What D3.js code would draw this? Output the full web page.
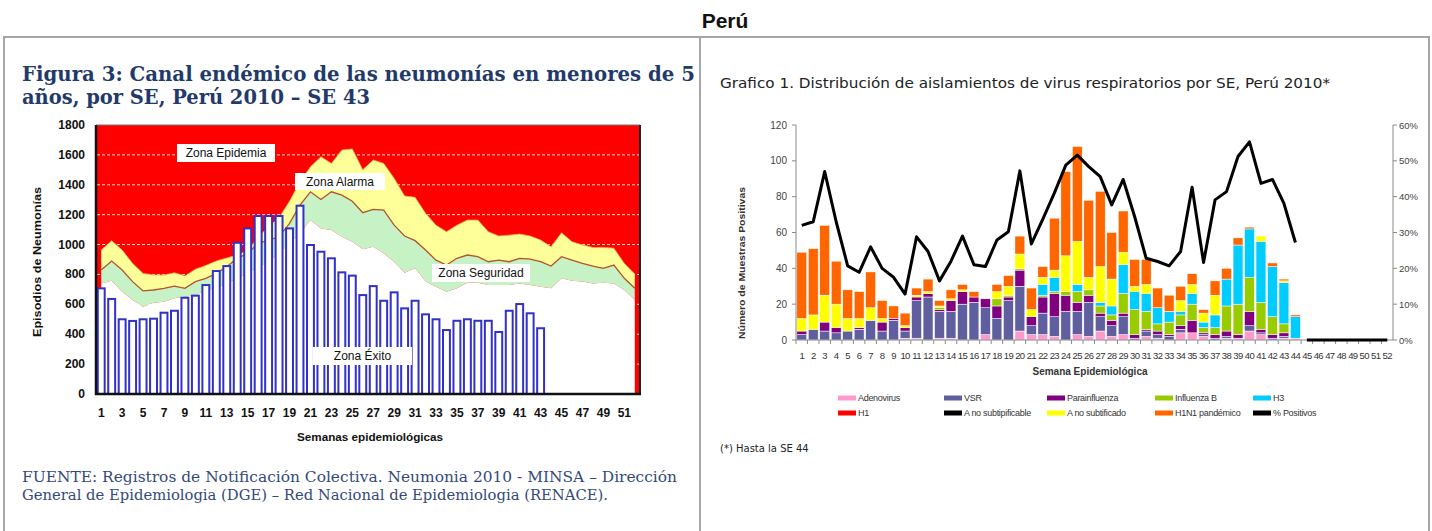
<!DOCTYPE html>
<html><head><meta charset="utf-8">
<script src="https://cdn.jsdelivr.net/npm/d3@7"></script>
<style>body{margin:0;background:#fff}svg{display:block}</style>
</head><body>
<svg id="c" width="1432" height="531"></svg>
<script>
// ---------- LEFT CHART DATA (Canal endémico) ----------
const semanasL = [1,2,3,4,5,6,7,8,9,10,11,12,13,14,15,16,17,18,19,20,21,22,23,24,25,26,27,28,29,30,31,32,33,34,35,36,37,38,39,40,41,42,43,44,45,46,47,48,49,50,51,52];
const casos2010 = [707,636,500,489,500,504,544,557,644,658,729,823,856,1012,1108,1191,1191,1191,1108,1260,997,952,908,814,792,662,722,624,680,573,624,533,500,428,490,500,490,490,415,557,602,540,440];
const limiteEpidemia = [963,1026,963,874,807,796,796,811,790,835,860,890,910,930,960,1050,1120,1180,1290,1420,1520,1588,1543,1632,1640,1500,1566,1543,1443,1325,1316,1209,1130,1086,1130,1164,1164,1086,1057,1063,1070,1057,1030,985,1079,1019,997,981,981,976,874,803];
const limiteAlarma = [830,890,830,752,690,696,707,722,707,752,774,807,852,908,941,1008,1030,1052,1142,1264,1353,1302,1353,1331,1290,1213,1235,1231,1130,1057,1026,963,896,863,908,930,919,885,896,885,908,903,885,856,919,896,874,856,841,863,774,707];
const limiteSeguridad = [740,758,685,629,584,611,618,640,651,662,696,707,740,774,807,852,885,941,1008,1075,1164,1108,1097,1052,1019,968,985,941,885,811,841,752,718,685,707,745,745,729,729,729,740,729,718,707,774,758,752,740,745,740,696,629];
const ticksL = [0,200,400,600,800,1000,1200,1400,1600,1800];
const etiquetasSemanaL = [1,3,5,7,9,11,13,15,17,19,21,23,25,27,29,31,33,35,37,39,41,43,45,47,49,51];
const zonas = ["Zona Epidemia","Zona Alarma","Zona Seguridad","Zona Éxito"];

// ---------- RIGHT CHART DATA (aislamientos de virus) ----------
const semanasR = [1,2,3,4,5,6,7,8,9,10,11,12,13,14,15,16,17,18,19,20,21,22,23,24,25,26,27,28,29,30,31,32,33,34,35,36,37,38,39,40,41,42,43,44,45,46,47,48,49,50,51,52];
const semanasConDatos = [1,2,3,4,5,6,7,8,9,10,11,12,13,14,15,16,17,18,19,20,21,22,23,24,25,26,27,28,29,30,31,32,33,34,35,36,37,38,39,40,41,42,43,44];
const adenovirus   = [0,0,0,0,0,0,0,0,0,1,1,0,1,1,0,0,3,0,0,5,3,3,2,0,3,2,5,2,3,0,2,1,0,4,4,2,0,1,1,5,3,0,1,1];
const vsr          = [3,6,5,4,5,6,11,5,11,4,21,24,15,15,20,21,15,12,22,25,5,12,11,16,13,19,8,6,10,1,3,2,2,2,0,1,1,1,0,3,1,1,1,0];
const parainfluenza= [2,0,5,3,0,1,0,5,1,2,2,2,1,6,7,3,5,7,2,9,5,9,13,9,5,4,2,3,2,2,1,2,1,2,7,1,2,3,2,8,2,2,2,0];
const influenzaB   = [0,0,0,0,0,0,0,0,0,0,0,0,1,0,0,0,0,4,1,1,0,1,1,2,6,3,4,3,11,14,10,4,7,6,9,3,4,14,17,19,15,10,5,0];
const h3           = [0,0,0,0,0,0,0,0,0,0,0,0,0,0,0,0,0,0,0,0,0,6,8,0,4,0,2,5,16,10,10,9,6,2,6,3,7,15,33,27,34,28,23,12];
const h1           = [0,0,0,0,0,0,0,0,0,0,0,0,0,0,0,0,0,0,0,0,0,0,0,0,0,0,0,0,0,0,0,0,0,0,0,0,0,0,0,0,0,0,0,0];
const aNoSubtipificable = [0,0,0,0,0,0,0,0,0,0,0,0,0,0,0,0,0,0,0,0,0,0,0,0,0,0,0,0,0,0,0,0,0,0,0,0,0,0,0,0,0,0,0,0];
const aNoSubtificado = [7,8,15,13,7,5,7,2,0,1,1,1,1,1,1,0,0,4,5,8,4,4,4,20,24,7,20,15,7,3,5,0,0,6,5,5,11,0,0,0,3,0,1,0];
const h1n1Pandemico  = [37,37,39,24,16,15,20,10,7,7,4,7,3,5,3,3,0,4,6,10,12,6,29,47,53,43,42,26,23,15,14,11,9,8,6,2,8,6,4,1,0,2,1,1];
const pctPositivos = [32,33,47,33,20.7,18.9,26,20,17.5,12.8,28.8,24.7,16.5,22,29,21,20.5,27.9,30.2,47.2,26.8,33.7,41,48.8,51.6,48.4,45.6,37.7,44.8,34.4,22.8,21.9,20.7,24.7,42.6,21.6,39.1,41.4,51.2,55.3,43.7,44.8,38.1,27.2];
const semanasSinDatos = [45,46,47,48,49,50,51,52];
const pctSinDatos = [0,0,0,0,0,0,0,0];
const ticksR = [0,20,40,60,80,100,120];
const ticksPct = [0,10,20,30,40,50,60];
const seriesR = ["Adenovirus","VSR","Parainfluenza","Influenza B","H3","H1","A no subtipificable","A no subtificado","H1N1 pandémico"];
const coloresR = ["#ff99cc","#5f5f9f","#800080","#99cc00","#00ccff","#ff0000","#000000","#ffff00","#ff6600"];

// ---------- DRAW ----------
const svg = d3.select("#c");
svg.append("rect").attr("width",1432).attr("height",531).attr("fill","#fff");
const SANS = "'Liberation Sans', Arial, sans-serif";
const SERIF = "'DejaVu Serif', 'Liberation Serif', serif";

svg.append("text").attr("x",725).attr("y",28).attr("text-anchor","middle")
  .attr("font-family",SANS).attr("font-weight","bold").attr("font-size",21).attr("fill","#111").text("Perú");

const bc = "#a6a6a6";
svg.append("line").attr("x1",3).attr("x2",1430).attr("y1",37).attr("y2",37).attr("stroke",bc).attr("stroke-width",2);
[4,700,1429].forEach(x=>svg.append("line").attr("x1",x).attr("x2",x).attr("y1",37).attr("y2",531).attr("stroke",bc).attr("stroke-width",2));

// ===== LEFT =====
const gL = svg.append("g");
gL.append("text").attr("x",22).attr("y",81).attr("font-family",SERIF).attr("font-weight","bold").attr("font-size",20)
  .attr("fill","#1f3a6b").attr("textLength",673).attr("lengthAdjust","spacingAndGlyphs")
  .text("Figura 3: Canal endémico de las neumonías en menores de 5");
gL.append("text").attr("x",22).attr("y",104).attr("font-family",SERIF).attr("font-weight","bold").attr("font-size",20)
  .attr("fill","#1f3a6b").attr("textLength",348).attr("lengthAdjust","spacingAndGlyphs")
  .text("años, por SE, Perú 2010 – SE 43");

const xL = d3.scaleBand().domain(semanasL).range([96,640]).paddingInner(0.34).paddingOuter(0.17);
const yL = d3.scaleLinear().domain([0,1800]).range([394,125]);
const cxL = w => xL(w) + xL.bandwidth()/2;

gL.append("rect").attr("x",96).attr("y",125).attr("width",544).attr("height",269).attr("fill","#ff0000");
gL.selectAll(".grid").data(ticksL.slice(1,-1)).join("line")
  .attr("x1",97).attr("x2",639).attr("y1",d=>yL(d)).attr("y2",d=>yL(d))
  .attr("stroke","#ffd6d6").attr("stroke-width",1).attr("stroke-dasharray","3,2");

const rowsL = semanasL.map((w,i)=>({w, up:limiteEpidemia[i], al:limiteAlarma[i], se:limiteSeguridad[i]}));
const areaG = (a,b)=>d3.area().x(d=>cxL(d.w)).y0(d=>yL(a(d))).y1(d=>yL(b(d)));
gL.append("path").datum(rowsL).attr("d",areaG(d=>d.al,d=>d.up)).attr("fill","#ffff99");
gL.append("path").datum(rowsL).attr("d",areaG(d=>d.se,d=>d.al)).attr("fill","#c6f2c6");
gL.append("path").datum(rowsL).attr("d",areaG(d=>0,d=>d.se)).attr("fill","#ffffff");
gL.append("path").datum(rowsL).attr("d",d3.line().x(d=>cxL(d.w)).y(d=>yL(d.up))).attr("fill","none").attr("stroke","#f0b040").attr("stroke-width",0.8);
gL.append("path").datum(rowsL).attr("d",d3.line().x(d=>cxL(d.w)).y(d=>yL(d.al))).attr("fill","none").attr("stroke","#b4552c").attr("stroke-width",1.3);

gL.selectAll(".bar").data(casos2010.map((v,i)=>({w:semanasL[i],v}))).join("rect")
  .attr("x",d=>xL(d.w)).attr("width",xL.bandwidth()).attr("y",d=>yL(d.v)).attr("height",d=>yL(0)-yL(d.v))
  .attr("fill","#fff").attr("stroke","#3131c9").attr("stroke-width",2);

// zone labels
const zonaPos = [[177,144,98,18],[295,173,90,17],[432,264,98,18],[313,347,99,18]];
zonas.forEach((z,i)=>{
  const [x,y,w,h]=zonaPos[i];
  gL.append("rect").attr("x",x).attr("y",y).attr("width",w).attr("height",h).attr("fill","#fff");
  gL.append("text").attr("x",x+w/2).attr("y",y+h/2+4).attr("text-anchor","middle")
    .attr("font-family",SANS).attr("font-size",12).attr("fill","#111").text(z);
});

// frame and axes
gL.append("line").attr("x1",96).attr("x2",640).attr("y1",125).attr("y2",125).attr("stroke","#777").attr("stroke-width",1);
gL.append("line").attr("x1",640).attr("x2",640).attr("y1",125).attr("y2",394).attr("stroke","#222").attr("stroke-width",2);
gL.append("line").attr("x1",96).attr("x2",96).attr("y1",125).attr("y2",395).attr("stroke","#111").attr("stroke-width",2.5);
gL.append("line").attr("x1",95).attr("x2",641).attr("y1",394).attr("y2",394).attr("stroke","#111").attr("stroke-width",2.5);

gL.selectAll(".yt").data(ticksL).join("text").attr("x",85).attr("y",d=>yL(d)+4).attr("text-anchor","end")
  .attr("font-family",SANS).attr("font-weight","bold").attr("font-size",12).attr("fill","#111").text(d=>d);
gL.selectAll(".xt").data(etiquetasSemanaL).join("text").attr("x",d=>cxL(d)).attr("y",417).attr("text-anchor","middle")
  .attr("font-family",SANS).attr("font-weight","bold").attr("font-size",12).attr("fill","#111").text(d=>d);
gL.append("text").attr("transform","translate(41,262) rotate(-90)").attr("text-anchor","middle")
  .attr("font-family",SANS).attr("font-weight","bold").attr("font-size",11).attr("fill","#111")
  .attr("textLength",150).attr("lengthAdjust","spacingAndGlyphs").text("Episodios de Neumonías");
gL.append("text").attr("x",370).attr("y",441).attr("text-anchor","middle")
  .attr("font-family",SANS).attr("font-weight","bold").attr("font-size",11).attr("fill","#111")
  .attr("textLength",146).attr("lengthAdjust","spacingAndGlyphs").text("Semanas epidemiológicas");

gL.append("text").attr("x",22).attr("y",482).attr("font-family",SERIF).attr("font-size",14).attr("fill","#34497a")
  .attr("textLength",655).attr("lengthAdjust","spacingAndGlyphs")
  .text("FUENTE: Registros de Notificación Colectiva. Neumonia 2010 - MINSA – Dirección");
gL.append("text").attr("x",22).attr("y",500).attr("font-family",SERIF).attr("font-size",14).attr("fill","#34497a")
  .attr("textLength",586).attr("lengthAdjust","spacingAndGlyphs")
  .text("General de Epidemiologia  (DGE) – Red Nacional de Epidemiologia (RENACE).");

// ===== RIGHT =====
const gR = svg.append("g");
gR.append("text").attr("x",720).attr("y",88).attr("font-family","'DejaVu Sans', sans-serif").attr("font-size",13.5).attr("fill","#222")
  .attr("textLength",610).attr("lengthAdjust","spacingAndGlyphs")
  .text("Grafico 1. Distribución de aislamientos de virus respiratorios por SE, Perú 2010*");

const xR = d3.scaleBand().domain(semanasR).range([796,1393]).paddingInner(0.14).paddingOuter(0.07);
const yR = d3.scaleLinear().domain([0,120]).range([340,125]);
const yP = d3.scaleLinear().domain([0,60]).range([340,125]);
const cxR = w => xR(w) + xR.bandwidth()/2;

const seriesArr = [adenovirus,vsr,parainfluenza,influenzaB,h3,h1,aNoSubtipificable,aNoSubtificado,h1n1Pandemico];
const tabla = semanasConDatos.map((w,i)=>{ const o={w}; seriesR.forEach((k,j)=>o[k]=seriesArr[j][i]); return o; });
const stacked = d3.stack().keys(seriesR)(tabla);
gR.selectAll(".ser").data(stacked).join("g").attr("fill",(d,i)=>coloresR[i])
  .selectAll("rect").data(d=>d.filter(p=>p[1]-p[0]>0)).join("rect")
  .attr("x",d=>xR(d.data.w)).attr("width",xR.bandwidth())
  .attr("y",d=>yR(d[1])).attr("height",d=>yR(d[0])-yR(d[1]))
  .attr("stroke","#fff").attr("stroke-width",0.5);

// axes
const axisC = "#8a8a8a";
gR.append("line").attr("x1",796).attr("x2",796).attr("y1",125).attr("y2",340).attr("stroke",axisC);
gR.append("line").attr("x1",1393).attr("x2",1393).attr("y1",125).attr("y2",340).attr("stroke",axisC);
gR.append("line").attr("x1",796).attr("x2",1393).attr("y1",340).attr("y2",340).attr("stroke",axisC);
gR.selectAll(".tl").data(ticksR).join("line").attr("x1",792).attr("x2",796).attr("y1",d=>yR(d)).attr("y2",d=>yR(d)).attr("stroke",axisC);
gR.selectAll(".tr").data(ticksPct).join("line").attr("x1",1393).attr("x2",1397).attr("y1",d=>yP(d)).attr("y2",d=>yP(d)).attr("stroke",axisC);
gR.selectAll(".tx").data(semanasR).join("line").attr("x1",d=>cxR(d)-xR.step()/2).attr("x2",d=>cxR(d)-xR.step()/2)
  .attr("y1",340).attr("y2",344).attr("stroke",axisC);
gR.selectAll(".ytl").data(ticksR).join("text").attr("x",787).attr("y",d=>yR(d)+3.5).attr("text-anchor","end")
  .attr("font-family",SANS).attr("font-size",10).attr("fill","#444").text(d=>d);
gR.selectAll(".ytr").data(ticksPct).join("text").attr("x",1399).attr("y",d=>yP(d)+3.5)
  .attr("font-family",SANS).attr("font-size",9.5).attr("fill","#444").text(d=>d+"%");
gR.selectAll(".xtl").data(semanasR).join("text").attr("x",d=>cxR(d)).attr("y",359).attr("text-anchor","middle")
  .attr("font-family",SANS).attr("font-size",9.5).attr("letter-spacing",-0.6).attr("fill","#333").text(d=>d);
gR.append("text").attr("x",1090).attr("y",375).attr("text-anchor","middle").attr("font-family",SANS).attr("font-weight","bold")
  .attr("font-size",10).attr("fill","#333").text("Semana Epidemiológica");
gR.append("text").attr("transform","translate(745,263) rotate(-90)").attr("text-anchor","middle")
  .attr("font-family",SANS).attr("font-weight","bold").attr("font-size",9.5).attr("fill","#333")
  .attr("textLength",152).attr("lengthAdjust","spacingAndGlyphs").text("Número de Muestras Positivas");

// % positives line
const lineP = d3.line().x(d=>cxR(d.w)).y(d=>yP(d.p));
gR.append("path").datum(semanasConDatos.map((w,i)=>({w,p:pctPositivos[i]})))
  .attr("d",lineP).attr("fill","none").attr("stroke","#000").attr("stroke-width",3).attr("stroke-linejoin","round");
gR.append("path").datum(semanasSinDatos.map((w,i)=>({w,p:pctSinDatos[i]})))
  .attr("d",lineP).attr("fill","none").attr("stroke","#000").attr("stroke-width",3);

// legend
const legX = [838,944,1047,1155,1253];
const legY = [398,413];
const legItems = seriesR.concat(["% Positivos"]);
const legColors = coloresR.concat(["#000"]);
legItems.forEach((name,i)=>{
  const col = i%5, row = Math.floor(i/5);
  const x = legX[col], y = legY[row];
  gR.append("rect").attr("x",x).attr("y",y-2.5).attr("width",18).attr("height",5).attr("fill",legColors[i]);
  gR.append("text").attr("x",x+20).attr("y",y+3).attr("font-family",SANS).attr("font-size",9).attr("fill","#333")
    .attr("letter-spacing",-0.3).text(name);
});

gR.append("text").attr("x",720).attr("y",452).attr("font-family","'DejaVu Sans', sans-serif").attr("font-size",10).attr("fill","#222").text("(*) Hasta la SE 44");
</script>
</body></html>
